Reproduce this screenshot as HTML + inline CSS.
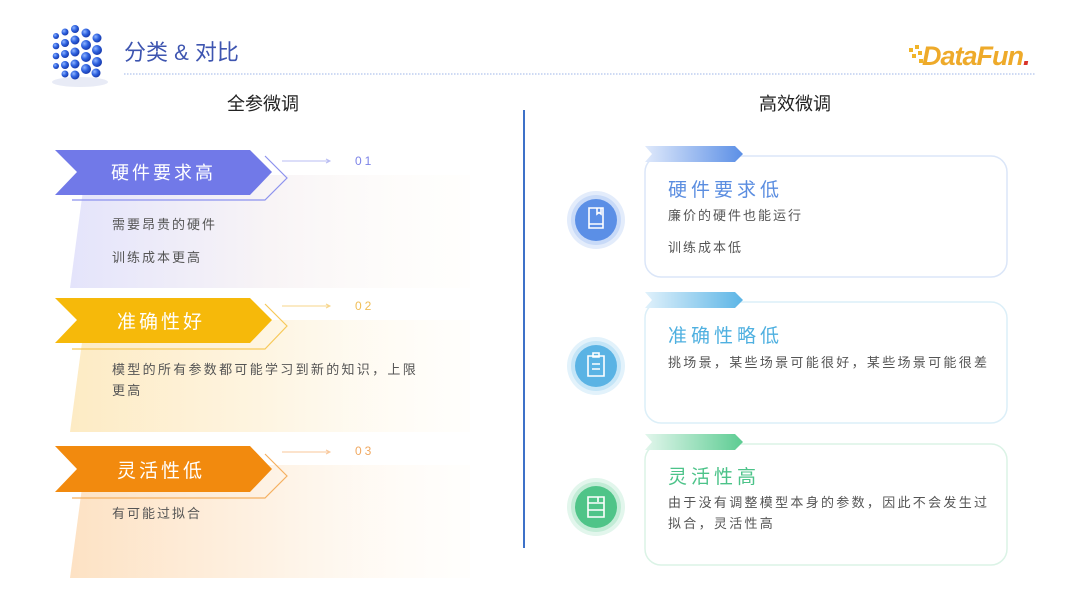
<!DOCTYPE html>
<html><head><meta charset="utf-8"><style>
html,body{margin:0;padding:0;background:#fff}
body{width:1080px;height:608px;overflow:hidden;position:relative;font-family:"Liberation Sans","Noto Sans CJK SC",sans-serif}
svg{position:absolute;left:0;top:0}
text{font-family:"Liberation Sans","Noto Sans CJK SC",sans-serif}
</style></head><body>
<svg width="1080" height="608" viewBox="0 0 1080 608">
<defs>
<radialGradient id="ball" cx="0.35" cy="0.35" r="0.7"><stop offset="0" stop-color="#8fb4ff"/><stop offset="0.5" stop-color="#2f63e0"/><stop offset="1" stop-color="#1536a8"/></radialGradient>
<linearGradient id="p1" x1="0" y1="0" x2="1" y2="0"><stop offset="0" stop-color="#e4e4fb"/><stop offset="0.5" stop-color="#f8f4f6"/><stop offset="1" stop-color="#fffdf8" stop-opacity="0.3"/></linearGradient>
<linearGradient id="p2" x1="0" y1="0" x2="1" y2="0"><stop offset="0" stop-color="#fdebc4"/><stop offset="0.5" stop-color="#fef5e2"/><stop offset="1" stop-color="#fffcf5" stop-opacity="0.3"/></linearGradient>
<linearGradient id="p3" x1="0" y1="0" x2="1" y2="0"><stop offset="0" stop-color="#fde2c4"/><stop offset="0.5" stop-color="#fef2e4"/><stop offset="1" stop-color="#fffcf7" stop-opacity="0.3"/></linearGradient>
<linearGradient id="t1" x1="0" y1="0" x2="1" y2="0"><stop offset="0" stop-color="#dfe9fb"/><stop offset="1" stop-color="#5b8fe6"/></linearGradient>
<linearGradient id="t2" x1="0" y1="0" x2="1" y2="0"><stop offset="0" stop-color="#e0f1fb"/><stop offset="1" stop-color="#5cb5e6"/></linearGradient>
<linearGradient id="t3" x1="0" y1="0" x2="1" y2="0"><stop offset="0" stop-color="#e2f6ec"/><stop offset="1" stop-color="#5ccc92"/></linearGradient>
</defs>
<g>
<ellipse cx="80" cy="82" rx="28" ry="5" fill="#d8def0" opacity="0.6"/>
<g fill="url(#ball)">
<circle cx="56" cy="36" r="3"/><circle cx="56" cy="46" r="3.3"/><circle cx="56" cy="56" r="3.3"/><circle cx="56" cy="66" r="3"/>
<circle cx="65" cy="32" r="3.5"/><circle cx="65" cy="43" r="4"/><circle cx="65" cy="54" r="4"/><circle cx="65" cy="65" r="4"/><circle cx="65" cy="74" r="3.5"/>
<circle cx="75" cy="29" r="4"/><circle cx="75" cy="40" r="4.5"/><circle cx="75" cy="52" r="4.5"/><circle cx="75" cy="64" r="4.5"/><circle cx="75" cy="75" r="4.5"/>
<circle cx="86" cy="33" r="4.5"/><circle cx="86" cy="45" r="5"/><circle cx="86" cy="57" r="5"/><circle cx="86" cy="69" r="5"/>
<circle cx="97" cy="38" r="4.5"/><circle cx="97" cy="50" r="5"/><circle cx="97" cy="62" r="5"/><circle cx="96" cy="73" r="4.5"/>
</g></g>
<text x="124" y="60" font-size="22" fill="#3e55b0">分类 &amp; 对比</text>
<line x1="124" y1="74" x2="1036" y2="74" stroke="#9db5e8" stroke-width="1" stroke-dasharray="1.5 1.5"/>
<g fill="#f0b429"><rect x="909" y="48" width="4" height="4"/><rect x="915" y="45" width="4" height="4"/><rect x="912" y="54" width="4" height="4"/><rect x="918" y="51" width="4" height="4"/><rect x="919" y="59" width="4" height="4"/></g>
<text x="922" y="65" font-size="27" font-weight="bold" font-style="italic" fill="#eeaa2a" letter-spacing="-1">DataFun<tspan fill="#d9332a">.</tspan></text>

<text x="263" y="110" font-size="18" fill="#222" text-anchor="middle">全参微调</text>
<text x="795" y="110" font-size="18" fill="#222" text-anchor="middle">高效微调</text>
<line x1="524" y1="110" x2="524" y2="548" stroke="#3d71c8" stroke-width="2"/>

<g>
<polygon points="85,175 470,175 470,288 70,288" fill="url(#p1)"/>
<polyline points="265,156 287,178 265,200 72,200" fill="none" stroke="#8c92ee" stroke-width="1.2"/>
<polygon points="55,150 250,150 272,172 250,195 55,195 77,172" fill="#7179e8"/>
<text x="111" y="179" font-size="18" fill="#fff" letter-spacing="3">硬件要求高</text>
<line x1="282" y1="161" x2="330" y2="161" stroke="#b8bcf3" stroke-width="1"/><polyline points="326,159 330,161 326,163" fill="none" stroke="#b8bcf3"/>
<text x="355" y="165" font-size="12" fill="#7c83e8" letter-spacing="3">01</text>
<text x="112" y="229" font-size="13" fill="#555" letter-spacing="2">需要昂贵的硬件</text>
<text x="112" y="262" font-size="13" fill="#555" letter-spacing="2">训练成本更高</text>
</g>
<g>
<polygon points="85,320 470,320 470,432 70,432" fill="url(#p2)"/>
<polyline points="265,304 287,326 265,349 72,349" fill="none" stroke="#f7c95a" stroke-width="1.2"/>
<polygon points="55,298 250,298 272,320 250,343 55,343 77,320" fill="#f6b90a"/>
<text x="117" y="328" font-size="19" fill="#fff" letter-spacing="3">准确性好</text>
<line x1="282" y1="306" x2="330" y2="306" stroke="#f7d58a" stroke-width="1"/><polyline points="326,304 330,306 326,308" fill="none" stroke="#f7d58a"/>
<text x="355" y="310" font-size="12" fill="#f0bd55" letter-spacing="3">02</text>
<text x="112" y="374" font-size="13" fill="#555" letter-spacing="2.3">模型的所有参数都可能学习到新的知识，上限</text>
<text x="112" y="395" font-size="13" fill="#555" letter-spacing="2.3">更高</text>
</g>
<g>
<polygon points="85,465 470,465 470,578 70,578" fill="url(#p3)"/>
<polyline points="265,454 287,476 265,498 72,498" fill="none" stroke="#f5b060" stroke-width="1.2"/>
<polygon points="55,446 250,446 272,469 250,492 55,492 77,469" fill="#f28a0e"/>
<text x="117" y="477" font-size="19" fill="#fff" letter-spacing="3">灵活性低</text>
<line x1="282" y1="452" x2="330" y2="452" stroke="#f8c79a" stroke-width="1"/><polyline points="326,450 330,452 326,454" fill="none" stroke="#f8c79a"/>
<text x="355" y="455" font-size="12" fill="#f0a860" letter-spacing="3">03</text>
<text x="112" y="518" font-size="13" fill="#555" letter-spacing="2">有可能过拟合</text>
</g>

<g>
<rect x="645" y="156" width="362" height="121" rx="16" fill="#fff" stroke="#dbe6f8" stroke-width="1.5"/>
<polygon points="645,146 735,146 743,154 735,162 645,162 652,154" fill="url(#t1)"/>
<text x="668" y="196" font-size="19" fill="#5a8de0" letter-spacing="4">硬件要求低</text>
<text x="668" y="220" font-size="13" fill="#555" letter-spacing="2">廉价的硬件也能运行</text>
<text x="668" y="252" font-size="13" fill="#555" letter-spacing="2">训练成本低</text>
<circle cx="596" cy="220" r="29" fill="#e3ecfb"/><circle cx="596" cy="220" r="25" fill="#c8daf8"/><circle cx="596" cy="220" r="21" fill="#5b8fe6"/>
<path d="M589,208 h14 v20 h-14 z M589,224 h14 M597,208 v6 l2,-1.5 l2,1.5 v-6" fill="none" stroke="#fff" stroke-width="1.6"/>
</g>
<g>
<rect x="645" y="302" width="362" height="121" rx="16" fill="#fff" stroke="#dceff8" stroke-width="1.5"/>
<polygon points="645,292 735,292 743,300 735,308 645,308 652,300" fill="url(#t2)"/>
<text x="668" y="342" font-size="19" fill="#4fb0e0" letter-spacing="4">准确性略低</text>
<text x="668" y="367" font-size="13" fill="#555" letter-spacing="2.3">挑场景，某些场景可能很好，某些场景可能很差</text>
<circle cx="596" cy="366" r="29" fill="#e2f2fb"/><circle cx="596" cy="366" r="25" fill="#c4e5f7"/><circle cx="596" cy="366" r="21" fill="#5ab3e4"/>
<path d="M588,356 h16 v20 h-16 z M593,353 h6 v4 h-6 z M592,364 h8 M592,369 h8" fill="none" stroke="#fff" stroke-width="1.6"/>
</g>
<g>
<rect x="645" y="444" width="362" height="121" rx="16" fill="#fff" stroke="#dbf3e6" stroke-width="1.5"/>
<polygon points="645,434 735,434 743,442 735,450 645,450 652,442" fill="url(#t3)"/>
<text x="668" y="483" font-size="19" fill="#4cc389" letter-spacing="4">灵活性高</text>
<text x="668" y="507" font-size="13" fill="#555" letter-spacing="2.3">由于没有调整模型本身的参数，因此不会发生过</text>
<text x="668" y="528" font-size="13" fill="#555" letter-spacing="2.3">拟合，灵活性高</text>
<circle cx="596" cy="507" r="29" fill="#e2f6ec"/><circle cx="596" cy="507" r="25" fill="#c2ecd6"/><circle cx="596" cy="507" r="21" fill="#4fc488"/>
<path d="M588,497 h16 v20 h-16 z M588,503 h16 M588,510 h16 M598,497 v5" fill="none" stroke="#fff" stroke-width="1.6"/>
</g>
</svg>
</body></html>
